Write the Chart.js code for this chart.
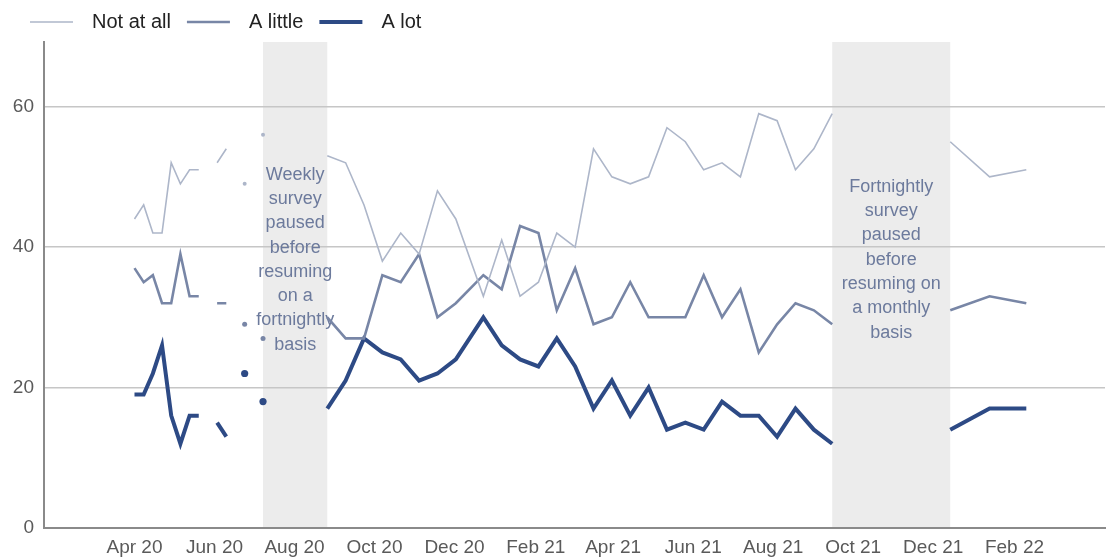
<!DOCTYPE html>
<html>
<head>
<meta charset="utf-8">
<script src="https://cdn.jsdelivr.net/npm/chart.js@4.4.1/dist/chart.umd.min.js"></script>
<style>
  html, body { margin: 0; padding: 0; background: #fff; }
  #wrap { width: 1107px; height: 557px; }
</style>
</head>
<body>
<div id="wrap"><canvas id="myChart"></canvas></div>
<script>
// survey dates: weekly, then fortnightly, then monthly
const dates = [
    '2020-04-01', '2020-04-08', '2020-04-15', '2020-04-22', '2020-04-29', '2020-05-06', '2020-05-13', '2020-05-20',
    '2020-05-27', '2020-06-03', '2020-06-10', '2020-06-17', '2020-06-24', '2020-07-01', '2020-07-08',
    '2020-08-26', '2020-09-09', '2020-09-23', '2020-10-07', '2020-10-21', '2020-11-04', '2020-11-18', '2020-12-02',
    '2020-12-23', '2021-01-06', '2021-01-20', '2021-02-03', '2021-02-17', '2021-03-03', '2021-03-17', '2021-03-31',
    '2021-04-14', '2021-04-28', '2021-05-12', '2021-05-26', '2021-06-09', '2021-06-23', '2021-07-07', '2021-07-21',
    '2021-08-04', '2021-08-18', '2021-09-01', '2021-09-15',
    '2021-12-14', '2022-01-13', '2022-02-10'
];
const notAtAll = [44, 46, 42, 42, 52, 49, 51, 51, null, 52, 54, null, 49, null, 56,
    53, 52, 46, 38, 42, 39, 48, 44, 33, 41, 33, 35, 42, 40, 54, 50, 49, 50, 57, 55, 51, 52, 50, 59, 58, 51, 54, 59,
    55, 50, 51];
const aLittle = [37, 35, 36, 32, 32, 39, 33, 33, null, 32, 32, null, 29, null, 27,
    30, 27, 27, 36, 35, 39, 30, 32, 36, 34, 43, 42, 31, 37, 29, 30, 35, 30, 30, 30, 36, 30, 34, 25, 29, 32, 31, 29,
    31, 33, 32];
const aLot = [19, 19, 22, 26, 16, 12, 16, 16, null, 15, 13, null, 22, null, 18,
    17, 21, 27, 25, 24, 21, 22, 24, 30, 26, 24, 23, 27, 23, 17, 21, 16, 20, 14, 15, 14, 18, 16, 16, 13, 17, 14, 12,
    14, 17, 17];

const tickDates = ['2020-04-01', '2020-06-01', '2020-08-01', '2020-10-01', '2020-12-01', '2021-02-01',
    '2021-04-01', '2021-06-01', '2021-08-01', '2021-10-01', '2021-12-01', '2022-02-01'];
const tickLabels = ['Apr 20', 'Jun 20', 'Aug 20', 'Oct 20', 'Dec 20', 'Feb 21',
    'Apr 21', 'Jun 21', 'Aug 21', 'Oct 21', 'Dec 21', 'Feb 22'];

const pauseStarts = ['2020-07-08', '2021-09-15'];
const pauseEnds = ['2020-08-26', '2021-12-14'];
const pauseNotes = [
    ['Weekly', 'survey', 'paused', 'before', 'resuming', 'on a', 'fortnightly', 'basis'],
    ['Fortnightly', 'survey', 'paused', 'before', 'resuming on', 'a monthly', 'basis']
];

const FONT = '"Liberation Sans", Arial, sans-serif';
const maxGap = 35; // days; longer gaps (the pauses) break the line
const toDay = d => Date.parse(d) / 864e5;

function points(values) {
    return values.map((v, i) => ({x: toDay(dates[i]), y: v}));
}

function isolated(ctx) {
    const data = ctx.dataset.data;
    const i = ctx.dataIndex;
    const p = data[i];
    if (!p || p.y == null) return false;
    const prev = data[i - 1];
    const next = data[i + 1];
    const prevOk = prev && prev.y != null && p.x - prev.x <= maxGap;
    const nextOk = next && next.y != null && next.x - p.x <= maxGap;
    return !prevOk && !nextOk;
}

function series(label, values, color, width, dot) {
    return {
        label: label,
        data: points(values),
        borderColor: color,
        backgroundColor: color,
        borderWidth: width,
        pointBackgroundColor: color,
        pointBorderWidth: 0,
        pointRadius: ctx => isolated(ctx) ? dot : 0,
        pointHoverRadius: 0,
        spanGaps: maxGap,
        tension: 0
    };
}

const pausePlugin = {
    id: 'pauses',
    beforeDraw(chart) {
        const {ctx, chartArea, scales} = chart;
        ctx.save();
        ctx.fillStyle = '#ececec';
        pauseStarts.forEach((s, i) => {
            const x0 = scales.x.getPixelForValue(toDay(s));
            const x1 = scales.x.getPixelForValue(toDay(pauseEnds[i]));
            ctx.fillRect(x0, chartArea.top, x1 - x0, chartArea.bottom - chartArea.top);
        });
        ctx.restore();
    },
    beforeDatasetsDraw(chart) {
        const {ctx, chartArea, scales} = chart;
        ctx.save();
        ctx.font = '18px ' + FONT;
        ctx.fillStyle = '#6c7a9c';
        ctx.textAlign = 'center';
        ctx.textBaseline = 'middle';
        const lh = 24.3;
        const cy = chartArea.top + (chartArea.bottom - chartArea.top) * 0.448;
        pauseStarts.forEach((s, i) => {
            const x0 = scales.x.getPixelForValue(toDay(s));
            const x1 = scales.x.getPixelForValue(toDay(pauseEnds[i]));
            const lines = pauseNotes[i];
            const y0 = cy - (lines.length - 1) * lh / 2;
            lines.forEach((t, j) => ctx.fillText(t, (x0 + x1) / 2, y0 + j * lh));
        });
        ctx.restore();
    }
};

const legendPlugin = {
    id: 'lineLegend',
    afterDraw(chart) {
        const ctx = chart.ctx;
        ctx.save();
        ctx.font = '20px ' + FONT;
        ctx.textBaseline = 'middle';
        let x = 30;
        const y = 22;
        chart.data.datasets.forEach(ds => {
            ctx.strokeStyle = ds.borderColor;
            ctx.lineWidth = ds.borderWidth;
            ctx.beginPath();
            ctx.moveTo(x, y);
            ctx.lineTo(x + 43, y);
            ctx.stroke();
            x += 43 + 19;
            ctx.fillStyle = '#222';
            ctx.fillText(ds.label, x, y);
            x += ctx.measureText(ds.label).width + 16;
        });
        ctx.restore();
    }
};

Chart.defaults.font.family = FONT;

new Chart(document.getElementById('myChart'), {
    type: 'line',
    data: {
        datasets: [
            series('Not at all', notAtAll, '#adb6c9', 1.6, 2),
            series('A little', aLittle, '#7886a6', 2.6, 2.5),
            series('A lot', aLot, '#2d4a85', 4, 3.6)
        ]
    },
    options: {
        responsive: true,
        maintainAspectRatio: false,
        animation: false,
        layout: {padding: {top: 42, right: 2, left: 0, bottom: 0}},
        plugins: {legend: {display: false}, tooltip: {enabled: false}},
        scales: {
            x: {
                type: 'linear',
                min: toDay('2020-01-23'),
                max: toDay('2022-04-11'),
                afterBuildTicks: s => { s.ticks = tickDates.map(d => ({value: toDay(d)})); },
                afterFit: s => { s.height = 29; },
                ticks: {
                    autoSkip: false,
                    maxRotation: 0,
                    padding: 0,
                    color: '#5a5a5a',
                    font: {size: 19},
                    callback: (v, i) => tickLabels[i]
                },
                grid: {display: false},
                border: {display: true, color: '#8a8a8a', width: 2}
            },
            y: {
                min: 0,
                max: 69.2,
                afterBuildTicks: s => { s.ticks = s.ticks.filter(t => t.value % 20 === 0); },
                afterFit: s => { s.width = 44; },
                ticks: {stepSize: 20, padding: 10, color: '#5a5a5a', font: {size: 19}},
                grid: {color: '#c6c6c6', lineWidth: 1.5, drawTicks: false},
                border: {color: '#8a8a8a', width: 2}
            }
        }
    },
    plugins: [pausePlugin, legendPlugin]
});
</script>
</body>
</html>
